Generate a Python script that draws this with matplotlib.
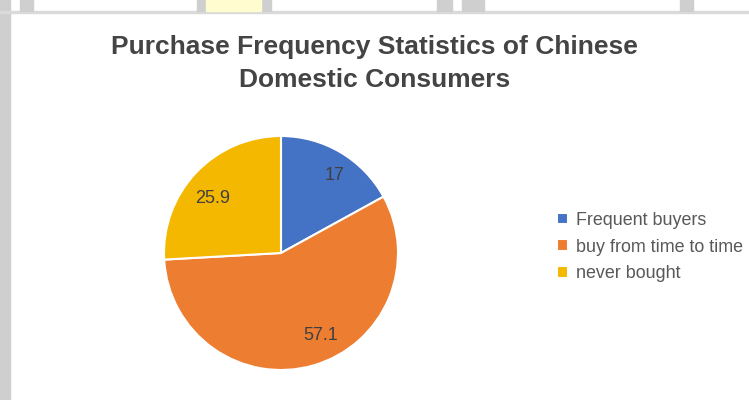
import numpy as np
import matplotlib.pyplot as plt
from matplotlib.patches import Rectangle

categories = ["Frequent buyers", "buy from time to time", "never bought"]
values = [17, 57.1, 25.9]
colors = ["#4472C4", "#ED7D31", "#F5B800"]

plt.rcParams['font.family'] = ['Liberation Sans', 'DejaVu Sans']

W, H = 749, 400
fig = plt.figure(figsize=(7.49, 4.0), dpi=100)
fig.patch.set_facecolor("white")

# screenshot frame bits
def px_rect(x, y, w, h, color):
    fig.patches.append(Rectangle((x / W, 1 - (y + h) / H), w / W, h / H,
                                 transform=fig.transFigure, color=color, zorder=0))

px_rect(0, 0, 10, H, "#CFCFCF")
px_rect(0, 11, W, 1.5, "#DADADA")
for x0, x1 in [(20, 33), (197, 206), (261, 271), (437, 452), (462, 484), (680, 693)]:
    px_rect(x0, 0, x1 - x0, 11, "#CFCFCF")
px_rect(206, 0, 55, 11, "#FFFDCF")

fig.text(0.5, 1 - 47 / H, "Purchase Frequency Statistics of Chinese",
         ha="center", va="center", fontsize=19, fontweight="bold", color="#444444")
fig.text(0.5, 1 - 80 / H, "Domestic Consumers",
         ha="center", va="center", fontsize=19, fontweight="bold", color="#444444")

cx, cy, r = 281, 253, 117
ax = fig.add_axes([(cx - r) / W, (H - cy - r) / H, 2 * r / W, 2 * r / H])
wedges, texts = ax.pie(values, colors=colors, startangle=90, counterclock=False,
                       labels=[f"{v:g}" for v in values], labeldistance=0.8,
                       wedgeprops=dict(edgecolor="white", linewidth=1.5),
                       textprops=dict(fontsize=13, color="#404040"))
# label placement (distance from centre, angular nudge in degrees)
for t, w, d, nudge in zip(texts, wedges, [0.80, 0.78, 0.75], [-4, 10, 5]):
    a = np.deg2rad((w.theta1 + w.theta2) / 2 + nudge)
    t.set_position((d * np.cos(a), d * np.sin(a)))
    t.set_ha("center")
    t.set_va("center")
ax.set_xlim(-1, 1)
ax.set_ylim(-1, 1)
ax.set_aspect("equal")

leg = fig.legend(wedges, categories, loc="center left",
                 bbox_to_anchor=(550 / W, 1 - 247 / H), frameon=False,
                 fontsize=12.9, handlelength=0.6, handleheight=0.6,
                 handletextpad=0.45, labelspacing=0.55, borderaxespad=0)
for t in leg.get_texts():
    t.set_color("#595959")

fig.savefig("out.png", dpi=100)
